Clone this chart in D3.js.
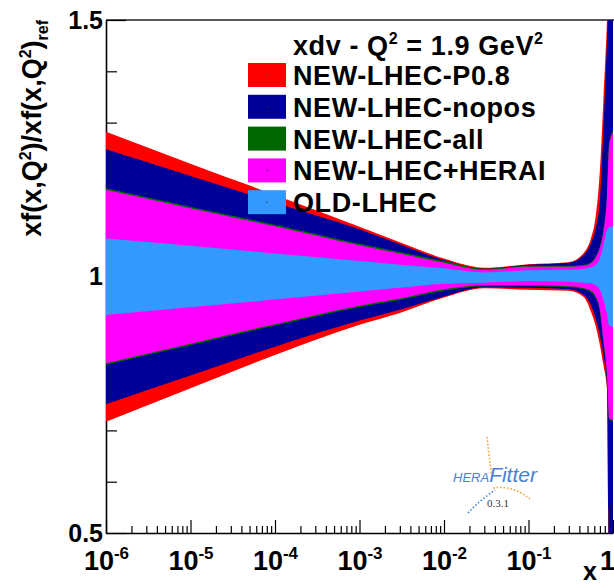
<!DOCTYPE html>
<html>
<head>
<meta charset="utf-8">
<script src="https://cdn.jsdelivr.net/npm/d3@7"></script>
<style>
  body { margin: 0; background: #fff; }
  svg { display: block; font-family: "Liberation Sans", Arial, Helvetica, sans-serif; }
  .axis path, .axis line { stroke: #000; }
</style>
</head>
<body>
<svg id="chart" width="614" height="587"></svg>
<script>
// ---- data: x grid and band limits (ratio to reference) ----
const xValues = [1e-6, 1e-5, 1e-4, 1e-3, 3e-3, 1e-2, 3e-2, 0.1, 0.3, 0.45, 0.55, 0.62, 0.7, 0.77, 0.85, 0.9, 1.0];

const p08Upper   = [1.282, 1.220, 1.159, 1.097, 1.067, 1.035, 1.017, 1.024, 1.028, 1.046, 1.075, 1.114, 1.208, 1.344, 1.500, 1.617, 1.734];
const p08Lower   = [0.717, 0.782, 0.847, 0.906, 0.929, 0.959, 0.977, 0.974, 0.972, 0.960, 0.931, 0.905, 0.866, 0.827, 0.779, 0.272, 0.077];

const noposUpper = [1.248, 1.196, 1.144, 1.092, 1.063, 1.032, 1.015, 1.023, 1.027, 1.042, 1.065, 1.091, 1.149, 1.286, 1.461, 1.578, 1.695];
const noposLower = [0.751, 0.807, 0.863, 0.914, 0.935, 0.961, 0.979, 0.978, 0.975, 0.964, 0.944, 0.919, 0.886, 0.847, 0.789, 0.369, 0.174];

const allUpper   = [1.172, 1.136, 1.101, 1.064, 1.048, 1.030, 1.015, 1.021, 1.021, 1.023, 1.028, 1.038, 1.059, 1.091, 1.163, 1.262, 1.284];
const allLower   = [0.828, 0.866, 0.904, 0.940, 0.954, 0.972, 0.981, 0.981, 0.979, 0.975, 0.969, 0.959, 0.931, 0.871, 0.805, 0.721, 0.718];

const heraUpper  = [1.169, 1.133, 1.098, 1.061, 1.045, 1.027, 1.013, 1.019, 1.019, 1.021, 1.026, 1.036, 1.056, 1.087, 1.159, 1.256, 1.280];
const heraLower  = [0.831, 0.869, 0.907, 0.943, 0.957, 0.975, 0.983, 0.983, 0.981, 0.977, 0.972, 0.962, 0.935, 0.876, 0.808, 0.724, 0.720];

const oldUpper   = [1.074, 1.060, 1.045, 1.030, 1.023, 1.016, 1.008, 1.012, 1.013, 1.015, 1.018, 1.022, 1.036, 1.061, 1.091, 1.096, 1.098];
const oldLower   = [0.925, 0.940, 0.955, 0.971, 0.978, 0.986, 0.988, 0.991, 0.990, 0.988, 0.987, 0.983, 0.974, 0.954, 0.925, 0.905, 0.902];

const seriesNames = ["NEW-LHEC-P0.8", "NEW-LHEC-nopos", "NEW-LHEC-all", "NEW-LHEC+HERAI", "OLD-LHEC"];
const legendTitle = { pdf: "xdv", q2: "1.9" };

const xTickExponents = [-6, -5, -4, -3, -2, -1, 0];
const yTickLabels = [0.5, 1, 1.5];

(function draw() {
  // ---- layout ----
  const svg = d3.select("#chart");
  const W = 614;
  const pLeft = 106, pRight = 613, pTop = 20, pBottom = 533;

  const x = d3.scaleLog().domain([1e-6, 1]).range([pLeft, pRight]);
  const y = d3.scaleLinear().domain([0.5, 1.5]).range([pBottom, pTop]);

  const colors = ["#ff0000", "#000099", "#006600", "#ff00ff", "#3399ff"];
  const bands = [
    [p08Upper, p08Lower],
    [noposUpper, noposLower],
    [allUpper, allLower],
    [heraUpper, heraLower],
    [oldUpper, oldLower]
  ];

  // ---- frame: top line ----
  svg.append("line")
    .attr("x1", pLeft).attr("x2", W)
    .attr("y1", pTop).attr("y2", pTop)
    .attr("stroke", "#222").attr("stroke-width", 1.3);

  // ---- x axis ----
  const minorX = [];
  for (let e = -6; e < 0; e++) for (let m = 2; m <= 9; m++) minorX.push(m * Math.pow(10, e));
  const majorX = xTickExponents.map(e => Math.pow(10, e));

  const gx = svg.append("g").attr("class", "axis").attr("transform", `translate(0,${pBottom})`);
  gx.call(d3.axisBottom(x).tickValues(minorX).tickSizeInner(-7).tickSizeOuter(0).tickFormat(""))
    .call(g => g.select(".domain").attr("stroke-width", 1.6))
    .call(g => g.selectAll(".tick line").attr("stroke-width", 1.2));

  const gxMajor = svg.append("g").attr("class", "axis").attr("transform", `translate(0,${pBottom})`);
  gxMajor.call(d3.axisBottom(x).tickValues(majorX).tickSizeInner(-13).tickSizeOuter(0).tickPadding(0).tickFormat(""))
    .call(g => g.select(".domain").remove())
    .call(g => g.selectAll(".tick line").attr("stroke-width", 1.2));

  gxMajor.selectAll(".tick").each(function(d, i) {
    const e = xTickExponents[i];
    const t = d3.select(this).append("text")
      .attr("y", 37).attr("fill", "#000")
      .attr("text-anchor", "middle")
      .style("font-size", "27px").style("font-weight", "bold");
    if (e === 0) {
      // last label sits at the right edge of the canvas
      t.attr("text-anchor", "end").attr("x", W - x(d) + 0.5).text("1");
    } else {
      t.append("tspan").text("10");
      t.append("tspan").attr("dy", -11).style("font-size", "17px").text("-" + Math.abs(e));
    }
  });

  // x title
  svg.append("text")
    .attr("x", 597).attr("y", 580)
    .attr("text-anchor", "end")
    .style("font-size", "25px").style("font-weight", "bold")
    .text("x");

  // ---- y axis ----
  const minorY = d3.range(5, 16).map(v => v / 10).filter(v => yTickLabels.indexOf(v) < 0);
  const gy = svg.append("g").attr("class", "axis").attr("transform", `translate(${pLeft},0)`);
  gy.call(d3.axisLeft(y).tickValues(minorY).tickSizeInner(-11).tickSizeOuter(0).tickFormat(""))
    .call(g => g.select(".domain").attr("stroke-width", 1.6))
    .call(g => g.selectAll(".tick line").attr("stroke-width", 1.2));

  const gyMajor = svg.append("g").attr("class", "axis").attr("transform", `translate(${pLeft},0)`);
  gyMajor.call(d3.axisLeft(y).tickValues(yTickLabels).tickSizeInner(-20).tickSizeOuter(0).tickPadding(3)
      .tickFormat(d => d === 1 ? "1" : d3.format(".1f")(d)))
    .call(g => g.select(".domain").remove())
    .call(g => g.selectAll(".tick line").attr("stroke-width", 1.2))
    .call(g => g.selectAll(".tick text")
      .attr("fill", "#000").attr("x", -3)
      .style("font-size", "25px").style("font-weight", "bold")
      .style("font-family", '"Liberation Sans", Arial, sans-serif'));

  // y title: xf(x,Q^2)/xf(x,Q^2)_ref
  const yTitle = svg.append("text")
    .attr("transform", "translate(41,20) rotate(-90)")
    .attr("text-anchor", "end")
    .style("font-size", "27px").style("font-weight", "bold");
  yTitle.append("tspan").text("xf(x,Q");
  yTitle.append("tspan").attr("dy", -10).style("font-size", "16px").text("2");
  yTitle.append("tspan").attr("dy", 10).text(")/xf(x,Q");
  yTitle.append("tspan").attr("dy", -10).style("font-size", "16px").text("2");
  yTitle.append("tspan").attr("dy", 10).text(")");
  yTitle.append("tspan").attr("dy", 7).style("font-size", "16px").text("ref");

  // ---- bands ----
  svg.append("clipPath").attr("id", "plotClip")
    .append("rect").attr("x", pLeft).attr("y", pTop).attr("width", W - pLeft).attr("height", pBottom - pTop);

  const area = d3.area()
    .x(d => x(d.x))
    .y0(d => y(d.lo))
    .y1(d => y(d.hi))
    .curve(d3.curveMonotoneX);

  const gBands = svg.append("g").attr("clip-path", "url(#plotClip)");
  bands.forEach(([hi, lo], k) => {
    const pts = xValues.map((xv, i) => ({ x: xv, hi: hi[i], lo: lo[i] }));
    gBands.append("path")
      .datum(pts)
      .attr("d", area)
      .attr("fill", colors[k]);
  });

  // ---- legend ----
  const legend = svg.append("g").style("letter-spacing", "0.6px");
  const lt = legend.append("text")
    .attr("x", 293).attr("y", 55)
    .style("font-size", "27px").style("font-weight", "bold");
  lt.append("tspan").text(legendTitle.pdf + " - Q");
  lt.append("tspan").attr("dy", -11).style("font-size", "16px").text("2");
  lt.append("tspan").attr("dy", 11).text(" = " + legendTitle.q2 + " GeV");
  lt.append("tspan").attr("dy", -11).style("font-size", "16px").text("2");

  seriesNames.forEach((name, i) => {
    const yy = 63 + i * 31.8;
    legend.append("rect")
      .attr("x", 248).attr("y", yy).attr("width", 38).attr("height", 24)
      .attr("fill", colors[i]);
    legend.append("rect")
      .attr("x", 266.5).attr("y", yy + 11.5).attr("width", 1.2).attr("height", 1.2)
      .attr("fill", "#333");
    legend.append("text")
      .attr("x", 293).attr("y", yy + 22)
      .style("font-size", "27px").style("font-weight", "bold")
      .text(name);
  });

  // ---- HERAFitter logo ----
  const logo = svg.append("g");
  logo.append("path")
    .attr("d", "M487,437 Q489,456 492,478")
    .attr("fill", "none").attr("stroke", "#f0a030").attr("stroke-width", 1.6)
    .attr("stroke-dasharray", "1.5,2");
  logo.append("path")
    .attr("d", "M493,488 Q513,485 530,499")
    .attr("fill", "none").attr("stroke", "#f0a030").attr("stroke-width", 1.6)
    .attr("stroke-dasharray", "1.5,2");
  logo.append("path")
    .attr("d", "M468,513 Q480,500 495,490")
    .attr("fill", "none").attr("stroke", "#4a7fd4").attr("stroke-width", 1.6)
    .attr("stroke-dasharray", "1.5,2");
  const lg = logo.append("text")
    .attr("x", 453).attr("y", 482)
    .attr("fill", "#4a7fd4")
    .style("font-style", "italic").style("font-weight", "normal");
  lg.append("tspan").style("font-size", "13px").text("HERA");
  lg.append("tspan").style("font-size", "21px").text("Fitter");
  logo.append("text")
    .attr("x", 487).attr("y", 507)
    .attr("fill", "#333")
    .style("font-size", "11px").style("font-weight", "normal")
    .style("font-family", '"Liberation Serif", serif')
    .text("0.3.1");
})();
</script>
</body>
</html>
